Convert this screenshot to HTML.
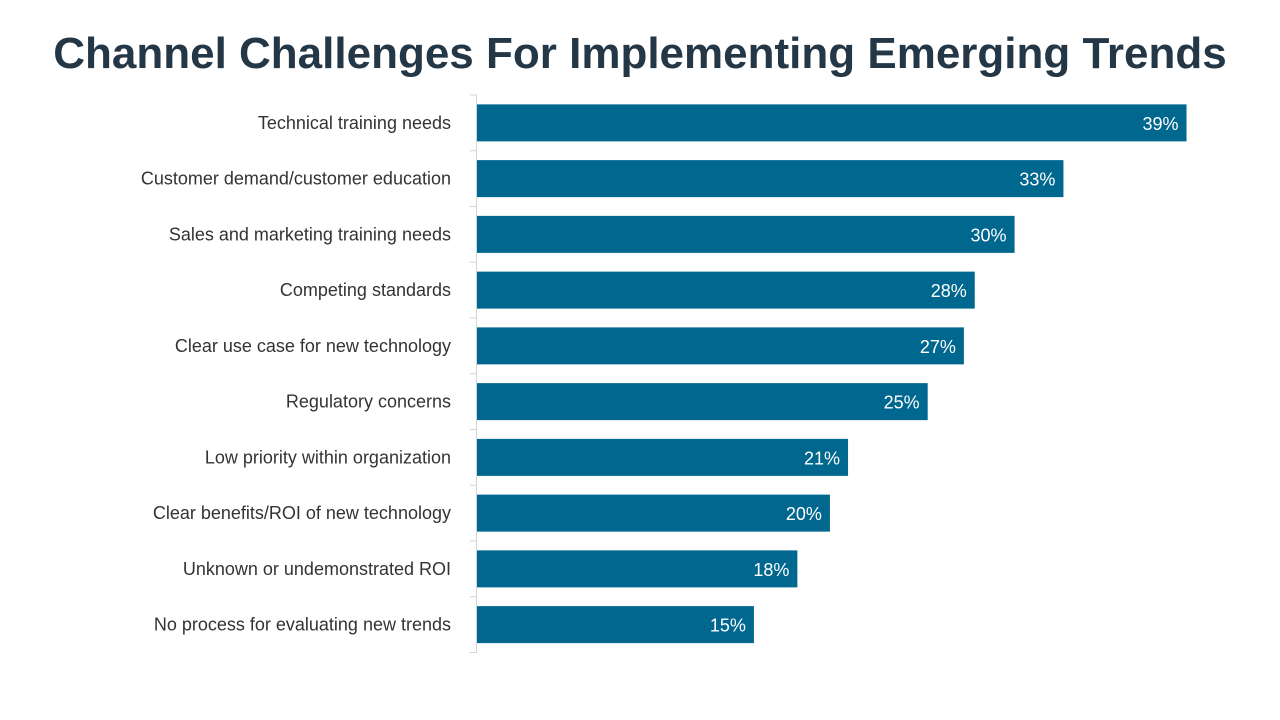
<!DOCTYPE html>
<html><head><meta charset="utf-8"><style>
body{margin:0;width:1280px;height:720px;background:#fff;overflow:hidden;font-family:"Liberation Sans",sans-serif}
#title{position:absolute;left:0;top:29px;width:1280px;text-align:center;font-size:44px;font-weight:bold;color:#243746}
</style></head><body>
<div id="title">Channel Challenges For Implementing Emerging Trends</div>
<svg id="chart" width="1280" height="720" style="position:absolute;left:0;top:0"></svg>
<script>
const categories=["Technical training needs","Customer demand/customer education","Sales and marketing training needs","Competing standards","Clear use case for new technology","Regulatory concerns","Low priority within organization","Clear benefits/ROI  of new technology","Unknown or undemonstrated ROI","No process for evaluating new trends"];
const values=[39.2,32.4,29.7,27.5,26.9,24.9,20.5,19.5,17.7,15.3];
const valueLabels=["39%","33%","30%","28%","27%","25%","21%","20%","18%","15%"];
const NS="http://www.w3.org/2000/svg";
const svg=document.getElementById('chart');
const x0=477,pxPer=18.1,plotTop=95,band=55.75,barH=37;
const xs=v=>x0+v*pxPer;
const yc=i=>plotTop+band*(i+0.5);
function mk(t,a){const e=document.createElementNS(NS,t);for(const k in a)e.setAttribute(k,a[k]);svg.appendChild(e);return e;}
const ax=mk('line',{x1:476.5,x2:476.5,y1:plotTop,y2:plotTop+band*categories.length,stroke:'#d0d5da','stroke-width':1});


for(let i=0;i<=categories.length;i++){
 const t=mk('line',{x1:470,x2:477,y1:plotTop+band*i,y2:plotTop+band*i,stroke:'#d0d5da','stroke-width':1});
 
 
}
categories.forEach((c,i)=>{
 const l=mk('text',{x:451,y:yc(i)+6,'text-anchor':'end','font-size':18,fill:'#333','font-family':'Liberation Sans, sans-serif'});
 l.textContent=c;
 
 
 const b=mk('rect',{x:x0,y:yc(i)-barH/2,width:xs(values[i])-x0,height:barH,fill:'#00678f'});
 
 
 const v=mk('text',{x:xs(values[i])-8,y:yc(i)+7,'text-anchor':'end','font-size':18,fill:'#fff','font-family':'Liberation Sans, sans-serif'});
 v.textContent=valueLabels[i];
 
 
});
</script>
</body></html>
